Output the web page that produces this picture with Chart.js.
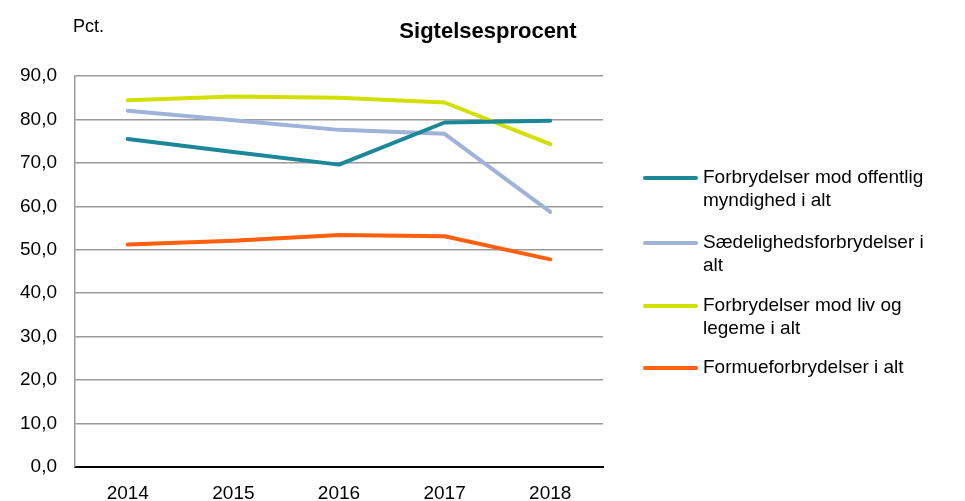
<!DOCTYPE html>
<html>
<head>
<meta charset="utf-8">
<script src="https://cdn.jsdelivr.net/npm/chart.js@4"></script>
<style>
html,body{margin:0;padding:0;background:#fff;}
#wrap{width:965px;height:501px;position:relative;}
</style>
</head>
<body>
<div id="wrap"><canvas id="c" width="965" height="501"></canvas></div>
<script>
const years = ["2014","2015","2016","2017","2018"];
const offentligMyndighed = [75.5, 72.5, 69.6, 79.3, 79.7];
const saedelighed = [82.0, 79.8, 77.6, 76.7, 58.7];
const livOgLegeme = [84.4, 85.3, 85.0, 83.9, 74.3];
const formue = [51.2, 52.1, 53.4, 53.1, 47.8];

const seriesLabels = [
  ["Forbrydelser mod offentlig", "myndighed i alt"],
  ["Sædelighedsforbrydelser i", "alt"],
  ["Forbrydelser mod liv og", "legeme i alt"],
  ["Formueforbrydelser i alt"]
];
const colors = ["#1B8797", "#9FB2D8", "#D2E000", "#FF5F0F"];
const title = "Sigtelsesprocent";
const unitLabel = "Pct.";

const FONT = "'Liberation Sans', Arial, sans-serif";

const extras = {
  id: 'extras',
  afterDraw(chart) {
    const ctx = chart.ctx;
    ctx.save();
    ctx.fillStyle = '#000';
    ctx.textBaseline = 'middle';
    ctx.font = "bold 22px " + FONT;
    ctx.textAlign = 'center';
    ctx.fillText(title, 488, 32);
    ctx.font = "18px " + FONT;
    ctx.textAlign = 'left';
    ctx.fillText(unitLabel, 73, 27);
    // legend
    const tops = [178, 243, 306, 368];
    chart.data.datasets.forEach((ds, i) => {
      const y = tops[i];
      ctx.strokeStyle = ds.borderColor;
      ctx.lineWidth = 4;
      ctx.lineCap = 'round';
      ctx.beginPath();
      ctx.moveTo(645, y);
      ctx.lineTo(696, y);
      ctx.stroke();
      ctx.fillStyle = '#000';
      ctx.font = "19px " + FONT;
      seriesLabels[i].forEach((t, j) => {
        ctx.fillText(t, 703, y + j * 23);
      });
    });
    ctx.restore();
  }
};

new Chart(document.getElementById('c'), {
  type: 'line',
  data: {
    labels: years,
    datasets: [
      {label: seriesLabels[0].join(' '), data: offentligMyndighed, borderColor: colors[0]},
      {label: seriesLabels[1].join(' '), data: saedelighed, borderColor: colors[1]},
      {label: seriesLabels[2].join(' '), data: livOgLegeme, borderColor: colors[2]},
      {label: seriesLabels[3].join(' '), data: formue, borderColor: colors[3]}
    ].map(d => Object.assign(d, {borderWidth: 4, pointRadius: 0, tension: 0, fill: false, borderCapStyle: 'round', borderJoinStyle: 'round'}))
  },
  options: {
    responsive: false,
    animation: false,
    layout: {padding: {left: 0, right: 362, top: 76, bottom: 0}},
    plugins: {legend: {display: false}, title: {display: false}, tooltip: {enabled: false}},
    scales: {
      x: {
        offset: true,
        grid: {display: false, drawTicks: false},
        border: {display: true, color: '#000', width: 2},
        ticks: {color: '#000', font: {family: FONT, size: 19}, padding: 15},
        afterFit(s) { s.height = 34; }
      },
      y: {
        min: 0, max: 90,
        grid: {color: '#9a9a9a', lineWidth: 1.5, drawTicks: false},
        border: {display: true, color: '#9a9a9a', width: 1.5},
        ticks: {stepSize: 10, color: '#000', font: {family: FONT, size: 19}, padding: 18,
          callback: v => v.toFixed(1).replace('.', ',')},
        afterFit(s) { s.width = 75; }
      }
    }
  },
  plugins: [extras]
});
</script>
</body>
</html>
